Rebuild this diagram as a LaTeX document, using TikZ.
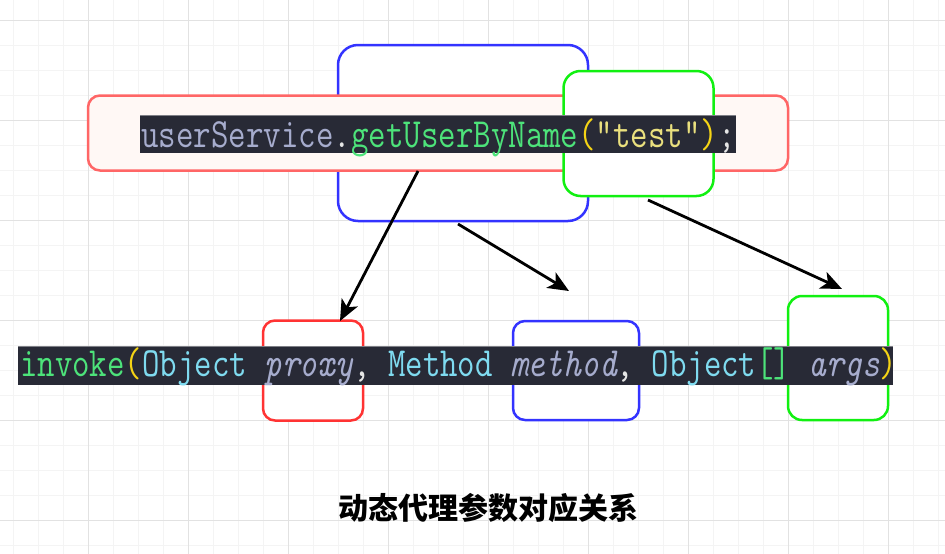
\documentclass[tikz,border=0pt]{standalone}
\usepackage{fontspec}
\usepackage{graphicx}
\newfontfamily\cjk{Noto Sans CJK SC}
\usetikzlibrary{arrows.meta}
\definecolor{codebg}{HTML}{282A36}
\definecolor{cvar}{HTML}{A6ACCD}
\definecolor{cfun}{HTML}{4DE37A}
\definecolor{cparen}{HTML}{F5D415}
\definecolor{cstr}{HTML}{EAE07E}
\definecolor{ctype}{HTML}{7FDBF0}
\definecolor{cpunct}{HTML}{E6E6E6}
\definecolor{redtop}{HTML}{FF6666}
\definecolor{redfill}{HTML}{FFF8F5}
\definecolor{blueb}{HTML}{3333FF}
\definecolor{greenb}{HTML}{11F011}
\definecolor{redb}{HTML}{FF3333}
\definecolor{gridminor}{HTML}{F4F4F4}
\definecolor{gridmajor}{HTML}{E2E2E2}
\newcommand{\cc}[2]{\textcolor{#1}{#2}}
\newcommand{\codefont}{\ttfamily\fontsize{33.2}{36}\selectfont}
\tikzset{
  box/.style={draw, line width=2.5pt, fill=white, inner sep=0pt},
  codetext/.style={anchor=base west, inner sep=0pt},
  link/.style={draw=black, line width=2.8pt, -{Stealth[length=21pt,width=18pt,inset=5.5pt]}}
}
\begin{document}
\begin{tikzpicture}[x=1pt,y=-1pt]
\useasboundingbox (0,0) rectangle (945,554);
\fill[white] (0,0) rectangle (945,554);
% grid
\foreach \gx in {13,38,...,945} \draw[gridminor, line width=1pt] (\gx,0) -- (\gx,554);
\foreach \gy in {20,45,...,554} \draw[gridminor, line width=1pt] (0,\gy) -- (945,\gy);
\foreach \gx in {88,188,...,945} \draw[gridmajor, line width=1pt] (\gx,0) -- (\gx,554);
\foreach \gy in {20,120,...,554} \draw[gridmajor, line width=1pt] (0,\gy) -- (945,\gy);

% top boxes
\node[box, draw=blueb, rounded corners=20pt, minimum width=250pt, minimum height=176pt] (tblue) at (463,133) {};
\node[box, draw=redtop, fill=redfill, rounded corners=12pt, minimum width=700pt, minimum height=75pt] (tred) at (438,133) {};
\node[box, draw=greenb, rounded corners=17pt, minimum width=150pt, minimum height=125pt] (tgreen) at (638.5,133.5) {};
\fill[codebg] (140,115) rectangle (736,153);
\draw[codebg!60!white, line width=0.6pt] (140,115) -- (736,115);
\node[codetext] (code1) at (141,147) {\codefont\scalebox{1.023}[1.25]{\cc{cvar}{userService}\cc{cpunct}{.}\cc{cfun}{getUserByName}\cc{cparen}{(}\cc{cstr}{"test"}\cc{cparen}{)}\cc{cpunct}{;}}};

% bottom boxes
\node[box, draw=redb, rounded corners=12pt, minimum width=100pt, minimum height=100pt] (bred) at (313,370.5) {};
\node[box, draw=blueb, rounded corners=12pt, minimum width=126pt, minimum height=99pt] (bblue) at (576,370.5) {};
\node[box, draw=greenb, rounded corners=14pt, minimum width=100pt, minimum height=124pt] (bgreen) at (838,358) {};
\fill[codebg] (18,346) rectangle (893,385);
\draw[codebg!60!white, line width=0.6pt] (18,346) -- (893,346);
\node[codetext] (code2) at (20,376) {\codefont\scalebox{1.02}[1.25]{\cc{cfun}{invoke}\cc{cparen}{(}\cc{ctype}{Object} \cc{cvar}{\itshape proxy}\cc{cpunct}{,} \cc{ctype}{Method} \cc{cvar}{\itshape method}\cc{cpunct}{,} \cc{ctype}{Object}\cc{cfun}{[]} \cc{cvar}{\itshape args}\cc{cparen}{)}}};

% arrows
\coordinate (a1s) at (418,171);
\coordinate (a1e) at (340,321);
\coordinate (a2s) at (458,224);
\coordinate (a2e) at (569,291);
\coordinate (a3s) at (648,200);
\coordinate (a3e) at (842,289);
\draw[link] (a1s) -- (a1e);
\draw[link] (a2s) -- (a2e);
\draw[link] (a3s) -- (a3e);

% title
\node (title) at (488,508) {\cjk\bfseries\fontsize{30}{32}\selectfont 动态代理参数对应关系};
\end{tikzpicture}
\end{document}
